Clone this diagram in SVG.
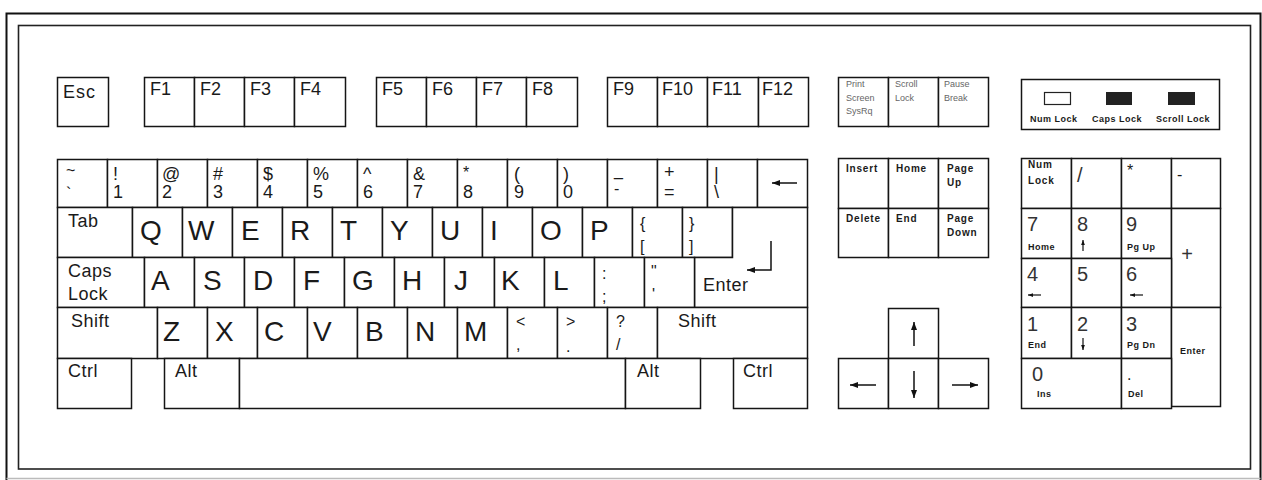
<svg xmlns="http://www.w3.org/2000/svg" width="1262" height="480" viewBox="0 0 1262 480">
<style>
.k{fill:#fff;stroke:#151515;stroke-width:1.5}
.fr{fill:none;stroke:#222;stroke-width:1.6}
text{font-family:"Liberation Sans",Arial,sans-serif;fill:#1a1a1a}
.lt{font-size:28px}
.lb{font-size:18px;letter-spacing:0.5px}
.fk{font-size:18px}
.sy{font-size:18px}
.ps{font-size:16px}
.tb{font-size:10px;font-weight:bold;letter-spacing:0.8px}
.tn{font-size:9px;font-weight:bold;letter-spacing:0.5px}
.tg{font-size:9px;fill:#666}
.np{font-size:20px;fill:#333}
.ar{stroke:#111;stroke-width:1.5;fill:none;marker-end:url(#ah)}
.as{stroke:#111;stroke-width:1.2;fill:none;marker-end:url(#as)}
</style>
<defs>
<marker id="ah" viewBox="0 0 8 6" refX="8" refY="3" markerWidth="8" markerHeight="6" markerUnits="userSpaceOnUse" orient="auto"><path d="M0,0 L8,3 L0,6 z" fill="#111"/></marker>
<marker id="as" viewBox="0 0 8 6" refX="8" refY="3" markerWidth="5" markerHeight="4" markerUnits="userSpaceOnUse" orient="auto"><path d="M0,0 L8,3 L0,6 z" fill="#111"/></marker>
</defs>
<rect width="1262" height="480" fill="#fff"/>
<g id="frame">
<path d="M6.5,480 V13.5 H1260.5 V480" fill="none" stroke="#111" stroke-width="2"/>
<path d="M6.5,478.5 H1260.5" fill="none" stroke="#bbb" stroke-width="1.5"/>
<rect class="fr" x="18.5" y="25.5" width="1232" height="443.5"/>
</g>
<g id="function-row">
<g id="key-esc"><rect class="k" x="57.5" y="77.5" width="51" height="49"/><text class="fk" x="63" y="98" letter-spacing="1">Esc</text></g>
<g id="key-f1"><rect class="k" x="144.5" y="77.5" width="50" height="49"/><text class="fk" x="150" y="95">F1</text></g>
<g id="key-f2"><rect class="k" x="194.5" y="77.5" width="50" height="49"/><text class="fk" x="200" y="95">F2</text></g>
<g id="key-f3"><rect class="k" x="244.5" y="77.5" width="50" height="49"/><text class="fk" x="250" y="95">F3</text></g>
<g id="key-f4"><rect class="k" x="294.5" y="77.5" width="51" height="49"/><text class="fk" x="300" y="95">F4</text></g>
<g id="key-f5"><rect class="k" x="376.5" y="77.5" width="50" height="49"/><text class="fk" x="382" y="95">F5</text></g>
<g id="key-f6"><rect class="k" x="426.5" y="77.5" width="50" height="49"/><text class="fk" x="432" y="95">F6</text></g>
<g id="key-f7"><rect class="k" x="476.5" y="77.5" width="50" height="49"/><text class="fk" x="482" y="95">F7</text></g>
<g id="key-f8"><rect class="k" x="526.5" y="77.5" width="51" height="49"/><text class="fk" x="532" y="95">F8</text></g>
<g id="key-f9"><rect class="k" x="607.5" y="77.5" width="50" height="49"/><text class="fk" x="613" y="95">F9</text></g>
<g id="key-f10"><rect class="k" x="657.5" y="77.5" width="50" height="49"/><text class="fk" x="662" y="95">F10</text></g>
<g id="key-f11"><rect class="k" x="707.5" y="77.5" width="51" height="49"/><text class="fk" x="712" y="95">F11</text></g>
<g id="key-f12"><rect class="k" x="758.5" y="77.5" width="50" height="49"/><text class="fk" x="762" y="95">F12</text></g>
<g id="key-prtsc"><rect class="k" x="838.5" y="77.5" width="50" height="49"/><text class="tg" x="846" y="87">Print</text><text class="tg" x="846" y="101">Screen</text><text class="tg" x="846" y="114">SysRq</text></g>
<g id="key-scrlk"><rect class="k" x="888.5" y="77.5" width="50" height="49"/><text class="tg" x="895" y="87">Scroll</text><text class="tg" x="895" y="101">Lock</text></g>
<g id="key-pause"><rect class="k" x="938.5" y="77.5" width="50" height="49"/><text class="tg" x="944" y="87">Pause</text><text class="tg" x="944" y="101">Break</text></g>
</g>
<g id="indicators">
<rect class="k" x="1021.5" y="79.5" width="198" height="50"/>
<rect x="1044.5" y="92.5" width="26" height="12" fill="#fff" stroke="#222" stroke-width="1.2"/>
<rect x="1106" y="92" width="26" height="13" fill="#222"/>
<rect x="1168" y="92" width="27" height="13" fill="#222"/>
<text class="tn" x="1030" y="122">Num Lock</text>
<text class="tn" x="1092" y="122">Caps Lock</text>
<text class="tn" x="1156" y="122">Scroll Lock</text>
</g>
<g id="number-row">
<g id="key-backquote"><rect class="k" x="57.5" y="159.5" width="50" height="48"/><text class="ps" x="66" y="176">~</text><text class="ps" x="66" y="199">`</text></g>
<g id="key-1"><rect class="k" x="107.5" y="159.5" width="50" height="48"/><text class="sy" x="113" y="180">!</text><text class="sy" x="113" y="198">1</text></g>
<g id="key-2"><rect class="k" x="157.5" y="159.5" width="50" height="48"/><text class="sy" x="162" y="180">@</text><text class="sy" x="162" y="198">2</text></g>
<g id="key-3"><rect class="k" x="207.5" y="159.5" width="50" height="48"/><text class="sy" x="213" y="180">#</text><text class="sy" x="213" y="198">3</text></g>
<g id="key-4"><rect class="k" x="257.5" y="159.5" width="50" height="48"/><text class="sy" x="263" y="180">$</text><text class="sy" x="263" y="198">4</text></g>
<g id="key-5"><rect class="k" x="307.5" y="159.5" width="50" height="48"/><text class="sy" x="313" y="180">%</text><text class="sy" x="313" y="198">5</text></g>
<g id="key-6"><rect class="k" x="357.5" y="159.5" width="50" height="48"/><text class="sy" x="363" y="180">^</text><text class="sy" x="363" y="198">6</text></g>
<g id="key-7"><rect class="k" x="407.5" y="159.5" width="50" height="48"/><text class="sy" x="413" y="180">&amp;</text><text class="sy" x="413" y="198">7</text></g>
<g id="key-8"><rect class="k" x="457.5" y="159.5" width="50" height="48"/><text class="ps" x="463" y="178">*</text><text class="sy" x="463" y="198">8</text></g>
<g id="key-9"><rect class="k" x="507.5" y="159.5" width="50" height="48"/><text class="sy" x="514" y="180">(</text><text class="sy" x="514" y="198">9</text></g>
<g id="key-0"><rect class="k" x="557.5" y="159.5" width="50" height="48"/><text class="sy" x="563" y="180">)</text><text class="sy" x="563" y="198">0</text></g>
<g id="key-minus"><rect class="k" x="607.5" y="159.5" width="50" height="48"/><text class="ps" x="614" y="176">_</text><text class="ps" x="614" y="194">-</text></g>
<g id="key-equal"><rect class="k" x="657.5" y="159.5" width="50" height="48"/><text class="sy" x="664" y="178">+</text><text class="sy" x="664" y="198">=</text></g>
<g id="key-backslash"><rect class="k" x="707.5" y="159.5" width="50" height="48"/><text class="sy" x="714" y="180">|</text><text class="sy" x="714" y="198">\</text></g>
<g id="key-backspace"><rect class="k" x="757.5" y="159.5" width="50" height="48"/><line class="ar" x1="797" y1="183" x2="772" y2="183"/></g>
</g>
<g id="qwerty-row">
<g id="key-tab"><rect class="k" x="57.5" y="207.5" width="75" height="50"/><text class="lb" x="68" y="227">Tab</text></g>
<g id="key-q"><rect class="k" x="132.5" y="207.5" width="50" height="50"/><text class="lt" x="140" y="240">Q</text></g>
<g id="key-w"><rect class="k" x="182.5" y="207.5" width="50" height="50"/><text class="lt" x="188" y="240">W</text></g>
<g id="key-e"><rect class="k" x="232.5" y="207.5" width="50" height="50"/><text class="lt" x="241" y="240">E</text></g>
<g id="key-r"><rect class="k" x="282.5" y="207.5" width="50" height="50"/><text class="lt" x="290" y="240">R</text></g>
<g id="key-t"><rect class="k" x="332.5" y="207.5" width="50" height="50"/><text class="lt" x="340" y="240">T</text></g>
<g id="key-y"><rect class="k" x="382.5" y="207.5" width="50" height="50"/><text class="lt" x="390" y="240">Y</text></g>
<g id="key-u"><rect class="k" x="432.5" y="207.5" width="50" height="50"/><text class="lt" x="440" y="240">U</text></g>
<g id="key-i"><rect class="k" x="482.5" y="207.5" width="50" height="50"/><text class="lt" x="490" y="240">I</text></g>
<g id="key-o"><rect class="k" x="532.5" y="207.5" width="50" height="50"/><text class="lt" x="540" y="240">O</text></g>
<g id="key-p"><rect class="k" x="582.5" y="207.5" width="50" height="50"/><text class="lt" x="590" y="240">P</text></g>
<g id="key-lbracket"><rect class="k" x="632.5" y="207.5" width="50" height="50"/><text class="ps" x="640" y="229">{</text><text class="ps" x="640" y="252">[</text></g>
<g id="key-rbracket"><rect class="k" x="682.5" y="207.5" width="50" height="50"/><text class="ps" x="689" y="229">}</text><text class="ps" x="689" y="252">]</text></g>
<g id="key-enter"><path class="k" d="M732.5,207.5 H807.5 V307.5 H694.5 V257.5 H732.5 Z"/><path class="ar" d="M771,241 V270 H747"/><text class="lb" x="703" y="291">Enter</text></g>
</g>
<g id="home-row">
<g id="key-caps"><rect class="k" x="57.5" y="257.5" width="87" height="50"/><text class="lb" x="68" y="277">Caps</text><text class="lb" x="68" y="300">Lock</text></g>
<g id="key-a"><rect class="k" x="144.5" y="257.5" width="50" height="50"/><text class="lt" x="151" y="290">A</text></g>
<g id="key-s"><rect class="k" x="194.5" y="257.5" width="50" height="50"/><text class="lt" x="203" y="290">S</text></g>
<g id="key-d"><rect class="k" x="244.5" y="257.5" width="50" height="50"/><text class="lt" x="253" y="290">D</text></g>
<g id="key-f"><rect class="k" x="294.5" y="257.5" width="50" height="50"/><text class="lt" x="303" y="290">F</text></g>
<g id="key-g"><rect class="k" x="344.5" y="257.5" width="50" height="50"/><text class="lt" x="352" y="290">G</text></g>
<g id="key-h"><rect class="k" x="394.5" y="257.5" width="50" height="50"/><text class="lt" x="402" y="290">H</text></g>
<g id="key-j"><rect class="k" x="444.5" y="257.5" width="50" height="50"/><text class="lt" x="454" y="290">J</text></g>
<g id="key-k"><rect class="k" x="494.5" y="257.5" width="50" height="50"/><text class="lt" x="501" y="290">K</text></g>
<g id="key-l"><rect class="k" x="544.5" y="257.5" width="50" height="50"/><text class="lt" x="553" y="290">L</text></g>
<g id="key-semicolon"><rect class="k" x="594.5" y="257.5" width="50" height="50"/><text class="ps" x="602" y="279">:</text><text class="ps" x="602" y="302">;</text></g>
<g id="key-quote"><rect class="k" x="644.5" y="257.5" width="50" height="50"/><text class="ps" x="651" y="277">"</text><text class="ps" x="652" y="300">'</text></g>
</g>
<g id="shift-row">
<g id="key-lshift"><rect class="k" x="57.5" y="307.5" width="100" height="51"/><text class="lb" x="71" y="327">Shift</text></g>
<g id="key-z"><rect class="k" x="157.5" y="307.5" width="50" height="51"/><text class="lt" x="163" y="341">Z</text></g>
<g id="key-x"><rect class="k" x="207.5" y="307.5" width="50" height="51"/><text class="lt" x="215" y="341">X</text></g>
<g id="key-c"><rect class="k" x="257.5" y="307.5" width="50" height="51"/><text class="lt" x="264" y="341">C</text></g>
<g id="key-v"><rect class="k" x="307.5" y="307.5" width="50" height="51"/><text class="lt" x="313" y="341">V</text></g>
<g id="key-b"><rect class="k" x="357.5" y="307.5" width="50" height="51"/><text class="lt" x="365" y="341">B</text></g>
<g id="key-n"><rect class="k" x="407.5" y="307.5" width="50" height="51"/><text class="lt" x="415" y="341">N</text></g>
<g id="key-m"><rect class="k" x="457.5" y="307.5" width="50" height="51"/><text class="lt" x="464" y="341">M</text></g>
<g id="key-comma"><rect class="k" x="507.5" y="307.5" width="50" height="51"/><text class="ps" x="516" y="327">&lt;</text><text class="ps" x="516" y="350">,</text></g>
<g id="key-period"><rect class="k" x="557.5" y="307.5" width="50" height="51"/><text class="ps" x="566" y="327">&gt;</text><text class="ps" x="566" y="352">.</text></g>
<g id="key-slash"><rect class="k" x="607.5" y="307.5" width="50" height="51"/><text class="ps" x="616" y="327">?</text><text class="ps" x="616" y="350">/</text></g>
<g id="key-rshift"><rect class="k" x="657.5" y="307.5" width="150" height="51"/><text class="lb" x="678" y="327">Shift</text></g>
</g>
<g id="bottom-row">
<g id="key-lctrl"><rect class="k" x="57.5" y="358.5" width="74" height="50"/><text class="lb" x="68" y="377">Ctrl</text></g>
<g id="key-lalt"><rect class="k" x="164.5" y="358.5" width="75" height="50"/><text class="lb" x="175" y="377">Alt</text></g>
<g id="key-space"><rect class="k" x="239.5" y="358.5" width="386" height="50"/></g>
<g id="key-ralt"><rect class="k" x="625.5" y="358.5" width="75" height="50"/><text class="lb" x="637" y="377">Alt</text></g>
<g id="key-rctrl"><rect class="k" x="733.5" y="358.5" width="74" height="50"/><text class="lb" x="743" y="377">Ctrl</text></g>
</g>
<g id="nav-cluster">
<g id="key-insert"><rect class="k" x="838.5" y="158.5" width="50" height="50"/><text class="tb" x="846" y="172">Insert</text></g>
<g id="key-home"><rect class="k" x="888.5" y="158.5" width="50" height="50"/><text class="tb" x="896" y="172">Home</text></g>
<g id="key-pgup"><rect class="k" x="938.5" y="158.5" width="50" height="50"/><text class="tb" x="947" y="172">Page</text><text class="tb" x="947" y="186">Up</text></g>
<g id="key-delete"><rect class="k" x="838.5" y="208.5" width="50" height="49"/><text class="tb" x="846" y="222">Delete</text></g>
<g id="key-end"><rect class="k" x="888.5" y="208.5" width="50" height="49"/><text class="tb" x="896" y="222">End</text></g>
<g id="key-pgdn"><rect class="k" x="938.5" y="208.5" width="50" height="49"/><text class="tb" x="947" y="222">Page</text><text class="tb" x="947" y="236">Down</text></g>
<g id="key-up"><rect class="k" x="888.5" y="308.5" width="50" height="50"/><line class="ar" x1="914" y1="346" x2="914" y2="322"/></g>
<g id="key-left"><rect class="k" x="838.5" y="358.5" width="50" height="50"/><line class="ar" x1="876" y1="385" x2="850" y2="385"/></g>
<g id="key-down"><rect class="k" x="888.5" y="358.5" width="50" height="50"/><line class="ar" x1="914" y1="371" x2="914" y2="398"/></g>
<g id="key-right"><rect class="k" x="938.5" y="358.5" width="50" height="50"/><line class="ar" x1="952" y1="385" x2="978" y2="385"/></g>
</g>
<g id="numpad">
<g id="key-numlock"><rect class="k" x="1021.5" y="158.5" width="50" height="50"/><text class="tb" x="1028" y="168">Num</text><text class="tb" x="1028" y="184">Lock</text></g>
<g id="key-kpdiv"><rect class="k" x="1071.5" y="158.5" width="50" height="50"/><text class="np" x="1077" y="182">/</text></g>
<g id="key-kpmul"><rect class="k" x="1121.5" y="158.5" width="50" height="50"/><text class="ps" x="1127" y="176">*</text></g>
<g id="key-kpsub"><rect class="k" x="1171.5" y="158.5" width="49" height="50"/><text class="ps" x="1177" y="180">-</text></g>
<g id="key-kp7"><rect class="k" x="1021.5" y="208.5" width="50" height="50"/><text class="np" x="1027" y="231">7</text><text class="tn" x="1028" y="250">Home</text></g>
<g id="key-kp8"><rect class="k" x="1071.5" y="208.5" width="50" height="50"/><text class="np" x="1077" y="231">8</text><line class="as" x1="1083" y1="251" x2="1083" y2="240"/></g>
<g id="key-kp9"><rect class="k" x="1121.5" y="208.5" width="50" height="50"/><text class="np" x="1126" y="231">9</text><text class="tn" x="1127" y="250">Pg Up</text></g>
<g id="key-kpadd"><rect class="k" x="1171.5" y="208.5" width="49" height="99"/><text class="np" x="1187" y="261" text-anchor="middle">+</text></g>
<g id="key-kp4"><rect class="k" x="1021.5" y="258.5" width="50" height="49"/><text class="np" x="1027" y="281">4</text><line class="as" x1="1041" y1="295" x2="1028" y2="295"/></g>
<g id="key-kp5"><rect class="k" x="1071.5" y="258.5" width="50" height="49"/><text class="np" x="1077" y="281">5</text></g>
<g id="key-kp6"><rect class="k" x="1121.5" y="258.5" width="50" height="49"/><text class="np" x="1126" y="281">6</text><line class="as" x1="1143" y1="295" x2="1130" y2="295"/></g>
<g id="key-kp1"><rect class="k" x="1021.5" y="307.5" width="50" height="51"/><text class="np" x="1027" y="331">1</text><text class="tn" x="1028" y="348">End</text></g>
<g id="key-kp2"><rect class="k" x="1071.5" y="307.5" width="50" height="51"/><text class="np" x="1077" y="331">2</text><line class="as" x1="1083" y1="338" x2="1083" y2="350"/></g>
<g id="key-kp3"><rect class="k" x="1121.5" y="307.5" width="50" height="51"/><text class="np" x="1126" y="331">3</text><text class="tn" x="1127" y="348">Pg Dn</text></g>
<g id="key-kpenter"><rect class="k" x="1171.5" y="307.5" width="49" height="99"/><text class="tn" x="1180" y="354">Enter</text></g>
<g id="key-kp0"><rect class="k" x="1021.5" y="358.5" width="100" height="50"/><text class="np" x="1032" y="381">0</text><text class="tn" x="1037" y="397">Ins</text></g>
<g id="key-kpdel"><rect class="k" x="1121.5" y="358.5" width="50" height="50"/><text class="ps" x="1127" y="380">.</text><text class="tn" x="1128" y="397">Del</text></g>
</g>
</svg>
